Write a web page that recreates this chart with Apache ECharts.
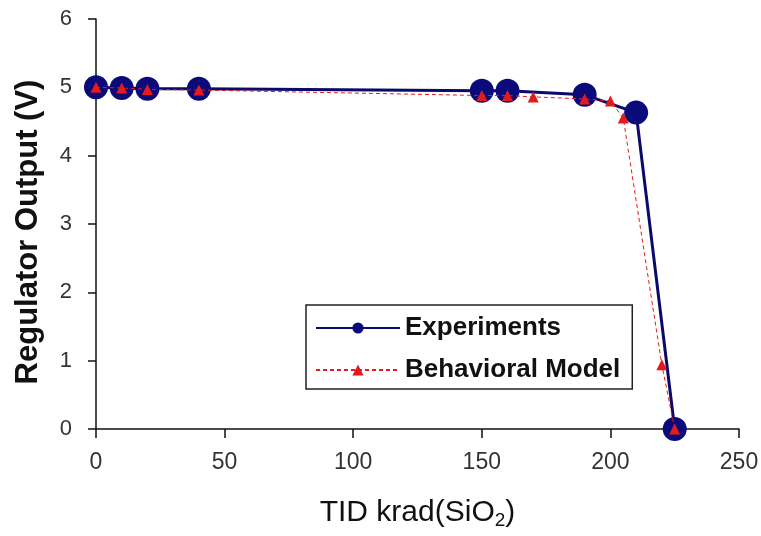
<!DOCTYPE html>
<html>
<head>
<meta charset="utf-8">
<script src="https://cdn.jsdelivr.net/npm/echarts@6/dist/echarts.min.js"></script>
<style>
html, body { margin: 0; padding: 0; background: #fff; }
#main { width: 761px; height: 536px; }
</style>
</head>
<body>
<div id="main"></div>
<script>
// TID dose (krad) and regulator output (V)
var exp_x = [0, 10, 20, 40, 150, 160, 190, 210, 225]
var exp_y = [5.0, 4.99, 4.98, 4.98, 4.95, 4.95, 4.89, 4.63, 0]
var model_x = [0, 10, 20, 40, 150, 160, 170, 190, 200, 205, 220, 225]
var model_y = [5.0, 4.99, 4.97, 4.96, 4.88, 4.88, 4.86, 4.83, 4.8, 4.55, 0.94, 0]

function pairs(xs, ys) {
	var out = [];
	for (var i = 0; i < xs.length; i++) out.push([xs[i], ys[i]]);
	return out;
}

var chartDom = document.getElementById('main');
var myChart = echarts.init(chartDom);
var option;

option = {
	animation: false,
	grid: {
		left: 96,
		right: 22,
		top: 19,
		bottom: 107,
		containLabel: false,
		outerBoundsMode: 'none'
	},
	legend: {
		left: 306,
		top: 305,
		orient: 'vertical',
		itemWidth: 84,
		itemHeight: 14,
		itemGap: 16,
		padding: [10, 12, 6, 9],
		borderColor: '#222',
		borderWidth: 1.5,
		textStyle: {
			fontFamily: 'Liberation Sans',
			fontWeight: 'bold',
			fontSize: 26,
			color: '#111'
		},
		data: ['Experiments', 'Behavioral Model']
	},
	xAxis: {
		type: 'value',
		min: 0,
		max: 250,
		interval: 50,
		name: '{a|TID krad(SiO}{s|2}{a|)}',
		nameLocation: 'middle',
		nameGap: 66,
		nameTextStyle: {
			rich: {
				a: { fontFamily: 'Liberation Sans', fontSize: 30, color: '#111' },
				s: { fontFamily: 'Liberation Sans', fontSize: 19, color: '#111', padding: [16, 0, 0, 0] }
			}
		},
		splitLine: { show: false },
		axisLine: { lineStyle: { color: '#111', width: 1.5 } },
		axisTick: { show: true, length: 9, lineStyle: { color: '#111', width: 1.5 } },
		axisLabel: { fontFamily: 'Liberation Sans', fontSize: 23, color: '#333', margin: 22 }
	},
	yAxis: {
		type: 'value',
		min: 0,
		max: 6,
		interval: 1,
		name: 'Regulator Output (V)',
		nameLocation: 'middle',
		nameGap: 52,
		nameTextStyle: { fontFamily: 'Liberation Sans', fontWeight: 'bold', fontSize: 31, color: '#111', padding: [0, 16, 0, 0] },
		splitLine: { show: false },
		axisLine: { show: true, lineStyle: { color: '#111', width: 1.5 } },
		axisTick: { show: true, length: 8, lineStyle: { color: '#111', width: 1.5 } },
		axisLabel: { fontFamily: 'Liberation Sans', fontSize: 22, color: '#333', margin: 24 }
	},
	series: [{
		name: 'Experiments',
		type: 'line',
		data: pairs(exp_x, exp_y),
		symbol: 'circle',
		symbolSize: 24,
		itemStyle: { color: '#0a0a7a' },
		lineStyle: { color: '#0a0a6a', width: 3 },
		z: 2
	}, {
		name: 'Behavioral Model',
		type: 'line',
		data: pairs(model_x, model_y),
		symbol: 'triangle',
		symbolSize: 11,
		itemStyle: { color: '#e41a1c' },
		lineStyle: { color: '#e41a1c', width: 1, type: [4, 3] },
		z: 3
	}]
};

myChart.setOption(option)
</script>
</body>
</html>
